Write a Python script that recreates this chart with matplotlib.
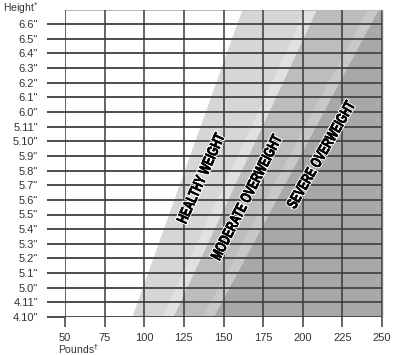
import numpy as np
import matplotlib
matplotlib.use("Agg")
import matplotlib.pyplot as plt
import matplotlib.patheffects as pe
import matplotlib.transforms as mtrans
from matplotlib.textpath import TextPath
from matplotlib.patches import PathPatch
from matplotlib.font_manager import FontProperties

# heights in inches, 4'10" to 6'6"
heights = list(range(58, 79))
height_labels = ['%d.%d"' % (h // 12, h % 12) for h in heights]
pounds = [50, 75, 100, 125, 150, 175, 200, 225, 250]

# left edge (lb) of each band at 58 in and at 79 in
band_names = ["HEALTHY WEIGHT", "MODERATE OVERWEIGHT", "SEVERE OVERWEIGHT"]
band_low = [92.5, 118.5, 144.0]
band_high = [162.0, 209.0, 248.0]
band_colors = ["#d6d6d6", "#bdbdbd", "#a8a8a8"]
stripe_colors = [None, "#e1e1e1", "#c8c8c8"]

# label centre positions (lb, in) and angles
label_x = [135.6, 164.4, 211.3]
label_y = [67.5, 66.2, 69.1]
label_rot = [66, 63, 60]

plt.rcParams['font.family'] = ['Liberation Sans', 'DejaVu Sans']

fig = plt.figure(figsize=(3.95, 3.55), dpi=100)
ax = fig.add_axes([65 / 395, 38 / 355, 317 / 395, 307.5 / 355])
ax.set_xlim(50, 250)
ax.set_ylim(58, 79)

y0, y1 = 58, 79
xmax = 250
for i in range(3):
    lo, hi = band_low[i], band_high[i]
    ax.fill([lo, hi, xmax, xmax], [y0, y1, y1, y0], color=band_colors[i], lw=0, zorder=1)
    if stripe_colors[i]:
        w = 7
        ax.fill([lo - w, hi - w, hi, lo], [y0, y1, y1, y0], color=stripe_colors[i], lw=0, zorder=1.5)

for p in pounds:
    ax.axvline(p, color="#3a3a3a", lw=1.1, zorder=3)
for h in heights:
    ax.axhline(h, color="#4d4d4d", lw=1.4, zorder=2)

ax.set_xticks(pounds)
ax.set_xticklabels([str(p) for p in pounds])
ax.set_yticks(heights)
ax.set_yticklabels(height_labels)
ax.tick_params(axis="y", length=13, width=1.4, color="#4d4d4d", pad=6.5, labelsize=8, labelcolor="#333333")
ax.tick_params(axis="x", length=7.5, width=1.1, color="#3a3a3a", pad=4, labelsize=8, labelcolor="#333333")

for s in ["left", "bottom"]:
    ax.spines[s].set_visible(False)
ax.spines["top"].set_color("#bbbbbb")
ax.spines["top"].set_linewidth(0.8)
ax.spines["right"].set_color("#777777")
ax.spines["right"].set_linewidth(1.0)

# condensed bold labels: squeeze a text path horizontally, then rotate
fp = FontProperties(family="Liberation Sans", weight="bold")
for i in range(3):
    tp = TextPath((0, 0), band_names[i], size=15.5, prop=fp)
    bb = tp.get_extents()
    cx, cy = ax.transData.transform((label_x[i], label_y[i]))
    tr = (mtrans.Affine2D()
          .translate(-(bb.x0 + bb.x1) / 2, -(bb.y0 + bb.y1) / 2)
          .scale(0.7, 1.0)
          .rotate_deg(label_rot[i])
          .translate(cx, cy))
    patch = PathPatch(tr.transform_path(tp), facecolor="black", edgecolor="black", lw=0.3,
                      transform=mtrans.IdentityTransform(), zorder=5)
    patch.set_path_effects([pe.withStroke(linewidth=1.8, foreground="white"), pe.Normal()])
    fig.add_artist(patch)

fig.text(3 / 395, 1 - 8 / 355, "Height$^{*}$", fontsize=7.5, color="#333333", va="center", ha="left")
fig.text(58 / 395, 1 - 349 / 355, "Pounds$^{\\dagger}$", fontsize=7.5, color="#333333", va="center", ha="left")

fig.savefig("out.png", dpi=100)
